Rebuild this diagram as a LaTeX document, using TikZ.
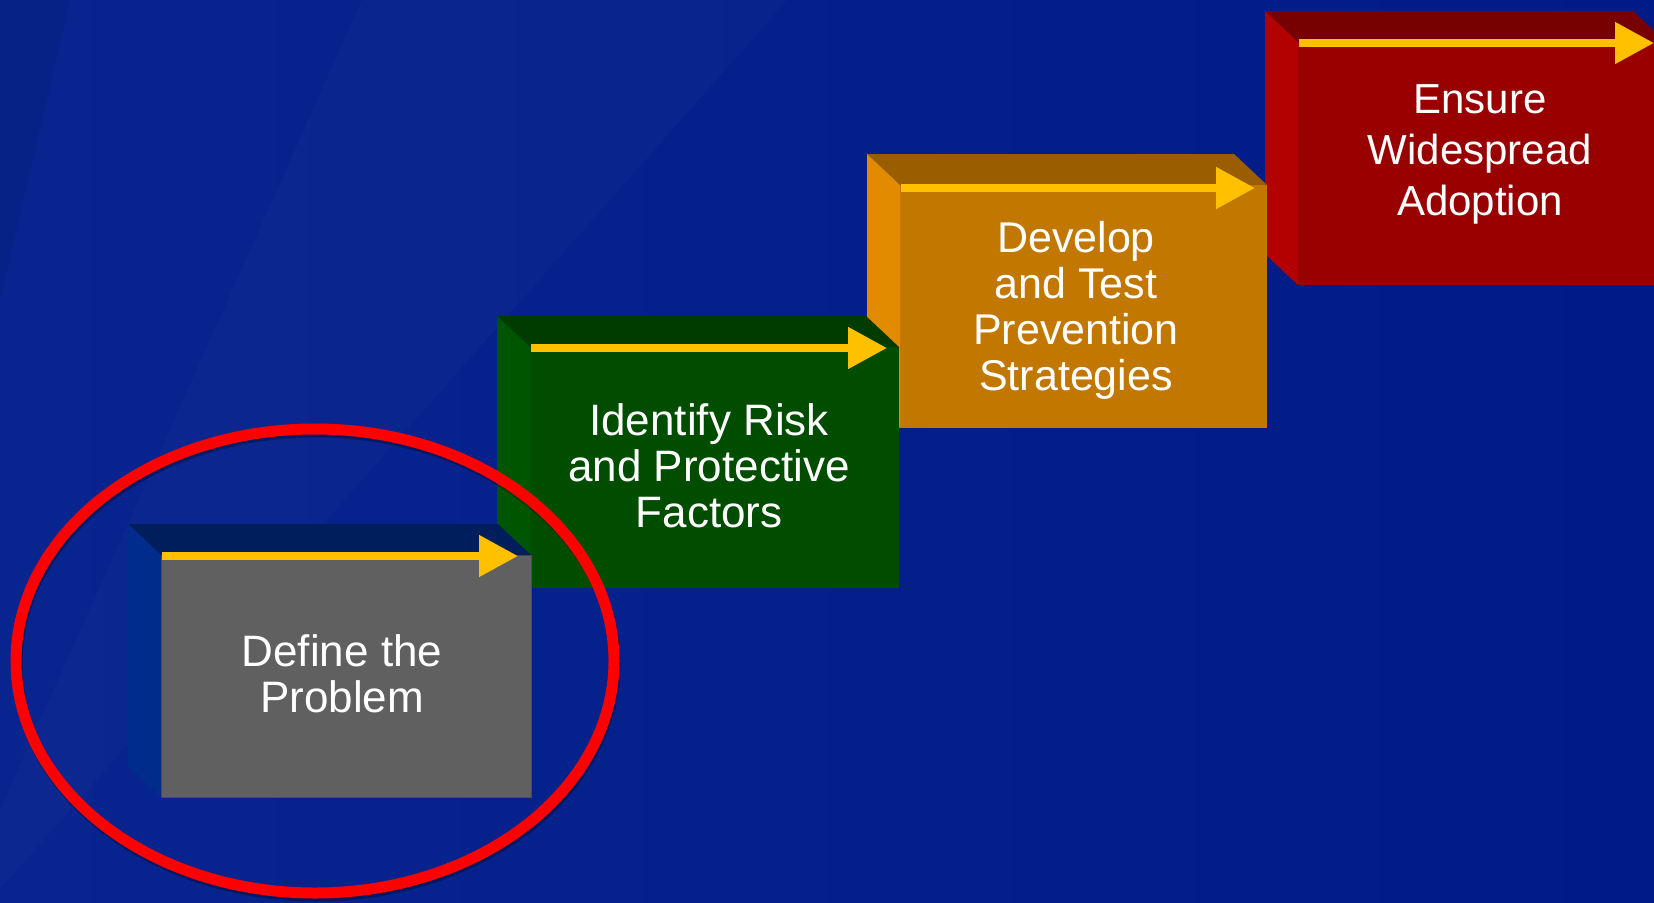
\documentclass[tikz,border=0pt]{standalone}
\usepackage{fontspec}
\setmainfont{Liberation Sans}
\usetikzlibrary{arrows.meta}
\definecolor{bgA}{HTML}{08248E}
\definecolor{bgB}{HTML}{001B86}
\definecolor{grayfront}{HTML}{606060}
\definecolor{grayedge}{HTML}{4E4E4E}
\definecolor{graytop}{HTML}{001E5C}
\definecolor{grayleft}{HTML}{002C8C}
\definecolor{greenfront}{HTML}{004D00}
\definecolor{greentop}{HTML}{003C00}
\definecolor{greenleft}{HTML}{005600}
\definecolor{orangefront}{HTML}{C27800}
\definecolor{orangetop}{HTML}{9A5E00}
\definecolor{orangeleft}{HTML}{E28A00}
\definecolor{redfront}{HTML}{990000}
\definecolor{redtop}{HTML}{770000}
\definecolor{redleft}{HTML}{B30000}
\definecolor{arrowyellow}{HTML}{FFC000}
\definecolor{ringred}{HTML}{FF0000}
\tikzset{
  frontface/.style={rectangle, inner sep=0pt, outer sep=0pt, anchor=north west, draw=none},
  yarrow/.style={draw=arrowyellow, line width=8pt, -{Triangle[width=40pt,length=39pt]}},
  boxtext/.style={text=white, align=center, inner sep=0pt, anchor=base},
  ring/.style={draw=ringred, line width=11pt},
}
\newcommand\boxbevel[3]{%
  \fill[#2] (#1.north west) -- ([shift={(-33,-31)}]#1.north west) -- ([shift={(-33,-31)}]#1.north east) -- (#1.north east) -- cycle;
  \fill[#3] (#1.north west) -- ([shift={(-33,-31)}]#1.north west) -- ([shift={(-33,-31)}]#1.south west) -- (#1.south west) -- cycle;
}
\begin{document}
\begin{tikzpicture}[x=1pt,y=-1pt]
\useasboundingbox (0,0) rectangle (1654,902);
\clip (0,0) rectangle (1654,902);
% background
\shade[left color=bgA, right color=bgB] (0,0) rectangle (1654,902);
\fill[white, opacity=0.018] (362,0) -- (787,0) -- (0,889) -- (0,810) -- cycle;
\fill[black, opacity=0.05] (0,0) -- (70,0) -- (0,300) -- cycle;

% box 4 (red)
\node[frontface, fill=redfront, minimum width=368pt, minimum height=243pt] (b4) at (1298,42) {};
\boxbevel{b4}{redtop}{redleft}
\draw[yarrow] ([shift={(1,1)}]b4.north west) -- ([shift={(-12,1)}]b4.north east);
\node[boxtext, font=\fontsize{42}{51}\selectfont] (t4) at (1480,215) {Ensure\\Widespread\\Adoption};

% box 3 (orange)
\node[frontface, fill=orangefront, minimum width=367pt, minimum height=243pt] (b3) at (900,185) {};
\boxbevel{b3}{orangetop}{orangeleft}
\draw[yarrow] ([shift={(1,3)}]b3.north west) -- ([shift={(-12,3)}]b3.north east);
\node[boxtext, font=\fontsize{43}{46}\selectfont] (t3) at (1076,390) {Develop\\and Test\\Prevention\\Strategies};

% box 2 (green)
\node[frontface, fill=greenfront, minimum width=369pt, minimum height=241pt] (b2) at (530,347) {};
\boxbevel{b2}{greentop}{greenleft}
\draw[yarrow] ([shift={(1,1)}]b2.north west) -- ([shift={(-12,1)}]b2.north east);
\node[boxtext, font=\fontsize{44}{46}\selectfont] (t2) at (709,527) {Identify Risk\\and Protective\\Factors};

% box 1 (gray)
\node[frontface, fill=grayfront, draw=grayedge, line width=1pt, minimum width=370pt, minimum height=242pt] (b1) at (161,555) {};
\boxbevel{b1}{graytop}{grayleft}
\draw[yarrow] ([shift={(1,1)}]b1.north west) -- ([shift={(-13,1)}]b1.north east);
\node[boxtext, font=\fontsize{44}{46}\selectfont] (t1) at (342,712) {Define the\\Problem};

% highlight ring
\coordinate (rc) at (315,661);
\draw[black, opacity=0.3, line width=11pt] ([shift={(1,3)}]rc) ellipse [x radius=299pt, y radius=232pt];
\draw[ring] (rc) ellipse [x radius=299pt, y radius=232pt];
\end{tikzpicture}
\end{document}
